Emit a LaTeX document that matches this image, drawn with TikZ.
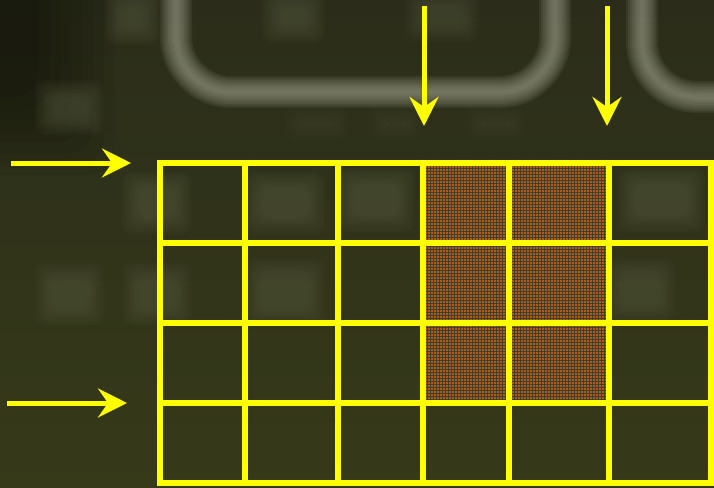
\documentclass[tikz,border=0pt]{standalone}
\usetikzlibrary{arrows.meta,patterns.meta}
\definecolor{bgtop}{HTML}{2B2D1A}
\definecolor{bgbot}{HTML}{363A19}
\definecolor{blobc}{HTML}{5A5E44}
\definecolor{ringc}{HTML}{9A9C88}
\definecolor{gridy}{HTML}{FFFF00}
\definecolor{orfill}{HTML}{B05A12}
\definecolor{ordark}{HTML}{3E3F2C}
\tikzdeclarepattern{name=finegrid, type=uncolored,
  bottom left={(0pt,0pt)}, top right={(3.4pt,3.4pt)}, tile size={(3.4pt,3.4pt)},
  code={\draw[line width=1.1pt] (0pt,0.55pt) -- (3.4pt,0.55pt) (0.55pt,0pt) -- (0.55pt,3.4pt);}}
\newcommand{\blurbox}[5]{%
  \foreach \k in {0,...,8}{%
    \pgfmathsetmacro\dd{\k*2.2}%
    \fill[blobc, opacity=#5, rounded corners=10pt] ({#1+\dd},{#2+\dd}) rectangle ({#3-\dd},{#4-\dd});
  }}
\tikzset{
  gline/.style={gridy, line width=6pt},
  arr/.style={gridy, line width=5pt, -{Stealth[length=29pt,width=29pt,inset=10pt]}},
  ring/.style={ringc, rounded corners=55pt}
}
\begin{document}
\begin{tikzpicture}[x=1pt,y=-1pt]
\useasboundingbox (0,0) rectangle (714,487);
\begin{scope}
\clip (0,0) rectangle (714,487);
% background
\shade[top color=bgtop, bottom color=bgbot] (0,-1) rectangle (714,488);
\foreach \k in {0,...,7}{%
  \pgfmathsetmacro\dd{\k*11}%
  \fill[black, opacity=0.05, rounded corners=25pt] (-40,-40) rectangle ({115-\dd},{175-\dd});
}
% blurred rings
\foreach \w in {32,28,24,20,16,12,8,4}{%
  \draw[ring, line width=\w pt, opacity=0.12] (176,-120) rectangle (555,92);
  \draw[ring, line width=\w pt, opacity=0.12] (642,-120) rectangle (920,97);
}
% blurred squares
\blurbox{105}{-10}{160}{45}{0.07}
\blurbox{262}{-10}{325}{43}{0.07}
\blurbox{405}{-10}{480}{42}{0.06}
\blurbox{35}{80}{105}{135}{0.07}
\blurbox{285}{108}{348}{140}{0.035}
\blurbox{368}{108}{422}{140}{0.035}
\blurbox{465}{108}{526}{140}{0.035}
\blurbox{122}{172}{192}{234}{0.075}
\blurbox{245}{172}{325}{234}{0.075}
\blurbox{336}{168}{415}{232}{0.075}
\blurbox{618}{168}{705}{232}{0.075}
\blurbox{35}{262}{105}{325}{0.07}
\blurbox{122}{262}{192}{325}{0.07}
\blurbox{245}{258}{325}{325}{0.07}
\blurbox{606}{258}{676}{322}{0.07}
% orange cells
\fill[orfill] (423,163) rectangle (609,403);
\fill[pattern={finegrid}, pattern color=ordark] (423,163) rectangle (609,403);
\end{scope}
% grid
\coordinate (g11) at (160,163);
\coordinate (g22) at (711,483);
\draw[gline] (g11) rectangle (g22);
\foreach \x in {245,338,423,509,609}{\draw[gline] (\x,163) -- (\x,483);}
\foreach \y in {243,323,403}{\draw[gline] (160,\y) -- (711,\y);}
% arrows
\coordinate (l1s) at (11,163);  \coordinate (l1e) at (131,163);
\coordinate (l2s) at (7,403);   \coordinate (l2e) at (127,403);
\coordinate (t1s) at (424,6);   \coordinate (t1e) at (424,126);
\coordinate (t2s) at (607,6);   \coordinate (t2e) at (607,126);
\draw[arr] (l1s) -- (l1e);
\draw[arr] (l2s) -- (l2e);
\draw[arr] (t1s) -- (t1e);
\draw[arr] (t2s) -- (t2e);
\end{tikzpicture}
\end{document}
